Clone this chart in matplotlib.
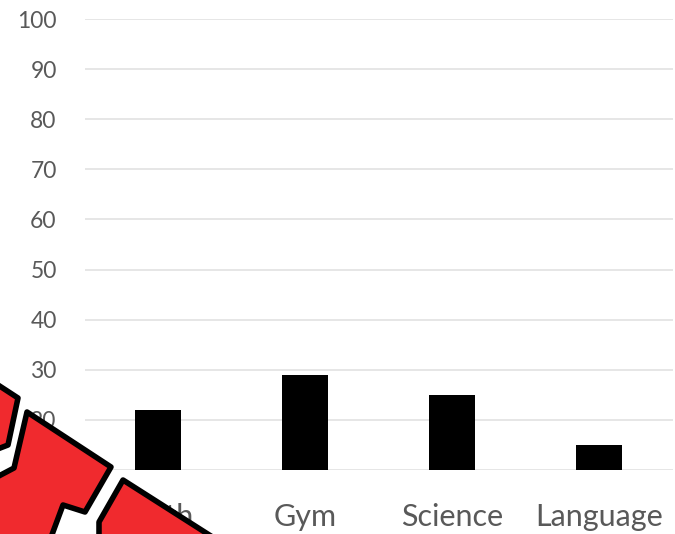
import matplotlib.pyplot as plt
from matplotlib.patches import Polygon

# --- données ---
subjects = ["Math", "Gym", "Science", "Language"]
scores = [22, 29, 25, 15]
y_ticks = [10, 20, 30, 40, 50, 60, 70, 80, 90, 100]

W, H = 675, 534
fig = plt.figure(figsize=(W / 100, H / 100), dpi=100)
ax = fig.add_axes([84.5 / W, (H - 470) / H, 588 / W, 451 / H])

x = range(len(subjects))
ax.bar(x, scores, width=0.31, color="black", zorder=3)
ax.set_xlim(-0.5, len(subjects) - 0.5)
ax.set_ylim(10, 100)
ax.set_yticks(y_ticks)
ax.set_xticks(list(x))
ax.set_xticklabels(subjects)

ax.grid(axis="y", color="#e2e2e2", linewidth=1.2, zorder=0)
for s in ax.spines.values():
    s.set_visible(False)
ax.tick_params(length=0, colors="#595959")
ax.tick_params(axis="y", pad=20, labelsize=16.5)
ax.tick_params(axis="x", pad=24, labelsize=22)
for lab in ax.get_xticklabels() + ax.get_yticklabels():
    lab.set_fontfamily("Lato")

# --- autocollant rouge en bas à gauche ---
over = fig.add_axes([0, 0, 1, 1], zorder=10)
over.set_xlim(0, W)
over.set_ylim(H, 0)
over.axis("off")
pieces = [
    [(-5, 383), (18, 398), (8, 445), (-5, 450)],
    [(27, 412), (111, 467), (85, 512), (63, 505), (50, 540), (-5, 540), (-5, 478), (14, 468)],
    [(99, 522), (123, 480), (225, 545), (99, 545)],
]
for pts in pieces:
    over.add_patch(Polygon(pts, closed=True, facecolor="#f02a2e",
                           edgecolor="black", linewidth=4, joinstyle="round"))

fig.savefig("out.png", dpi=100)
